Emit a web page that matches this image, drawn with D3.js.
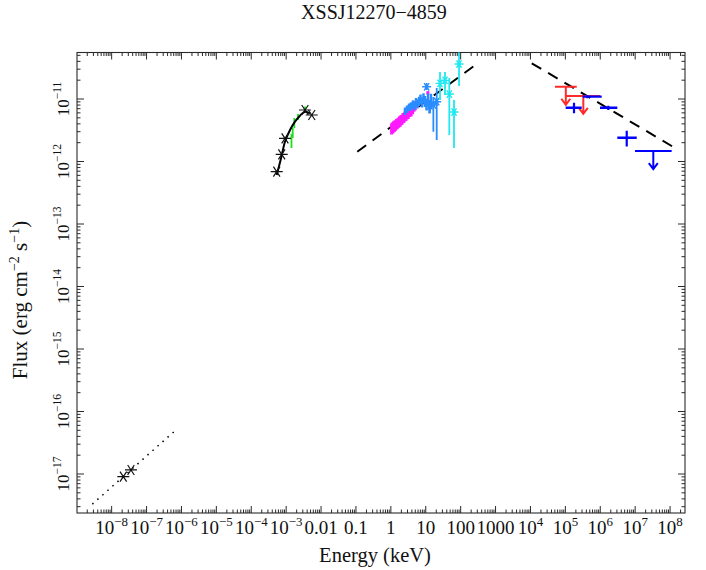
<!DOCTYPE html>
<html>
<head>
<meta charset="utf-8">
<script src="https://cdn.jsdelivr.net/npm/d3@7/dist/d3.min.js"></script>
<style>
  body { margin: 0; background: #fff; }
  svg, svg text { font-family: "Liberation Serif", "DejaVu Serif", serif; }
</style>
</head>
<body>
<div id="chart"></div>
<script>
// ---- data (energy in keV, flux in erg cm^-2 s^-1) ----
const xTickValues = [1e-8, 1e-7, 1e-6, 1e-5, 1e-4, 1e-3, 0.01, 0.1, 1, 10, 100, 1000, 1e4, 1e5, 1e6, 1e7, 1e8];
const xTickLabels = ["10^\u22128", "10^\u22127", "10^\u22126", "10^\u22125", "10^\u22124", "10^\u22123", "0.01", "0.1", "1", "10", "100", "1000", "10^4", "10^5", "10^6", "10^7", "10^8"];
const yTickValues = [1e-17, 1e-16, 1e-15, 1e-14, 1e-13, 1e-12, 1e-11];
const yTickLabels = ["10^\u221217", "10^\u221216", "10^\u221215", "10^\u221214", "10^\u221213", "10^\u221212", "10^\u221211"];

// radio
const radioE = [2.16e-8, 3.58e-8];
const radioF = [9.06e-18, 1.16e-17];
const radioModelE = [2.8e-9, 7.6e-7];
const radioModelF = [3.3e-18, 5.3e-17];

// optical / UV
const optE = [5.36e-4, 7.46e-4, 9.27e-4, 3.47e-3, 5.40e-3];
const optF = [6.87e-13, 1.30e-12, 2.35e-12, 6.67e-12, 5.55e-12];
const optModelE = [5.36e-4, 7.11e-4, 9.27e-4, 1.29e-3, 1.79e-3, 2.49e-3, 3.47e-3, 4.82e-3];
const optModelF = [6.08e-13, 1.12e-12, 2.07e-12, 3.19e-12, 4.34e-12, 5.41e-12, 6.27e-12, 5.90e-12];
const uvE = [1.42e-3, 1.54e-3, 1.71e-3, 2.19e-3, 3.47e-3];
const uvF = [2.13e-12, 2.86e-12, 4.13e-12, 5.15e-12, 6.79e-12];
const uvLo = [1.64e-12, 2.38e-12, 3.44e-12, 4.61e-12, 6.08e-12];
const uvHi = [2.75e-12, 3.44e-12, 4.97e-12, 5.75e-12, 7.59e-12];

// soft X-rays (magenta)
const pnE = [1.05, 1.1, 1.15, 1.2, 1.26, 1.32, 1.38, 1.45, 1.52, 1.6, 1.68, 1.77, 1.86, 1.96, 2.07, 2.2, 2.35, 2.5, 2.7, 2.9, 3.15, 3.45, 3.8, 4.2, 4.6, 5.0, 11.5];
const pnF = [3.38, 3.52, 3.49, 3.70, 3.66, 3.85, 3.83, 4.05, 3.99, 4.25, 4.22, 4.48, 4.40, 4.70, 4.66, 5.00, 5.05, 5.32, 5.41, 5.75, 5.85, 6.30, 6.40, 6.95, 7.45, 7.90, 12.5].map(v => v * 1e-12);
const pnErr = [0.2, 0.2, 0.19, 0.19, 0.19, 0.19, 0.18, 0.18, 0.18, 0.18, 0.18, 0.18, 0.18, 0.18, 0.18, 0.18, 0.18, 0.18, 0.18, 0.18, 0.18, 0.18, 0.18, 0.18, 0.16, 0.16, 0.06];

// X-rays (blue)
const epicE = [2.54, 2.90, 3.31, 3.78, 4.31, 4.76, 5.26, 5.80, 6.41, 7.07, 7.81, 8.62, 9.52, 10.5, 11.6, 12.8, 14.1];
const epicF = [6.43, 6.92, 7.45, 7.73, 8.32, 7.87, 8.95, 8.47, 9.29, 10.0, 8.95, 10.4, 9.29, 8.32, 10.0, 7.73, 9.64].map(v => v * 1e-12);
const epicErr = [0.14, 0.14, 0.14, 0.15, 0.15, 0.16, 0.16, 0.17, 0.17, 0.18, 0.18, 0.19, 0.2, 0.21, 0.22, 0.24, 0.26];
const epicStarE = [10.6, 13.2, 16.5, 20.6];
const epicStarF = [1.57e-11, 7.73e-12, 8.02e-12, 9.06e-12];
const epicStarLo = [1.39e-11, 5.97e-12, 3.0e-12, 2.21e-12];
const epicStarHi = [1.80e-11, 9.64e-12, 1.08e-11, 1.50e-11];

// hard X-rays (cyan)
const hardE = [25.6, 35.6, 47.3, 64.5, 89.8];
const hardF = [1.78e-11, 1.98e-11, 1.20e-11, 6.19e-12, 3.63e-11];
const hardLo = [9.64e-12, 1.16e-11, 2.65e-12, 1.64e-12, 1.61e-11];
const hardHi = [2.70e-11, 2.70e-11, 2.17e-11, 9.64e-12, 8.0e-11];

// models (dashed)
const xrayModelE = [0.109, 288];
const xrayModelF = [1.43e-12, 3.63e-11];
const gammaModelE = [1.09e4, 1.19e8];
const gammaModelF = [3.73e-11, 1.73e-12];

// gamma-rays: red upper limits
const ulE = [1.03e5, 3.27e5];
const ulELo = [5.05e4, 1.04e5];
const ulEHi = [2.12e5, 9.84e5];
const ulF = [1.57e-11, 1.12e-11];

// gamma-rays: blue points and upper limit
const latE = [1.77e5, 4.26e5, 1.70e6, 5.73e6];
const latELo = [1.02e5, 3.14e5, 9.84e5, 3.08e6];
const latEHi = [2.94e5, 1.10e6, 3.08e6, 1.11e7];
const latF = [7.26e-12, 1.09e-11, 7.26e-12, 2.40e-12];
const latFLo = [5.90e-12, 1.03e-11, 6.67e-12, 1.73e-12];
const latFHi = [8.73e-12, 1.15e-11, 7.82e-12, 3.11e-12];
const latUlE = [3.31e7];
const latUlELo = [9.91e6];
const latUlEHi = [1.11e8];
const latUlF = [1.47e-12];

// ---- layout ----
const width = 706, height = 570;
const plotLeft = 77, plotRight = 685, plotTop = 52.5, plotBottom = 513;
const serif = "'Liberation Serif', 'DejaVu Serif', serif";

const x = d3.scaleLog().domain([Math.pow(10, -8.993), Math.pow(10, 8.428)]).range([plotLeft, plotRight]);
const y = d3.scaleLog().domain([Math.pow(10, -17.624), Math.pow(10, -10.256)]).range([plotBottom, plotTop]);

const svg = d3.select("#chart").append("svg")
    .attr("width", width)
    .attr("height", height)
    .attr("font-family", serif);

svg.append("defs").append("clipPath").attr("id", "plotclip")
    .append("rect")
    .attr("x", plotLeft).attr("y", plotTop)
    .attr("width", plotRight - plotLeft).attr("height", plotBottom - plotTop);

const axisColor = "#2a2a2a";

// frame
svg.append("rect")
    .attr("x", plotLeft).attr("y", plotTop)
    .attr("width", plotRight - plotLeft).attr("height", plotBottom - plotTop)
    .attr("fill", "none")
    .attr("stroke", axisColor)
    .attr("stroke-width", 1.1);

// ticks (all inside, on four sides)
const majorLen = 7, minorLen = 3.5;
const ticksG = svg.append("g").attr("stroke", axisColor).attr("stroke-width", 1);

function decadeTicks(domain) {
    const lo = Math.floor(Math.log10(domain[0])), hi = Math.ceil(Math.log10(domain[1]));
    const out = [];
    for (let d = lo; d <= hi; d++) {
        for (let k = 1; k <= 9; k++) {
            const v = k * Math.pow(10, d);
            if (v >= domain[0] && v <= domain[1]) out.push({ v: v, major: k === 1 });
        }
    }
    return out;
}

decadeTicks(x.domain()).forEach(t => {
    const px = x(t.v), len = t.major ? majorLen : minorLen;
    ticksG.append("line").attr("x1", px).attr("x2", px).attr("y1", plotBottom).attr("y2", plotBottom - len);
    ticksG.append("line").attr("x1", px).attr("x2", px).attr("y1", plotTop).attr("y2", plotTop + len);
});
decadeTicks(y.domain()).forEach(t => {
    const py = y(t.v), len = t.major ? majorLen : minorLen;
    ticksG.append("line").attr("x1", plotLeft).attr("x2", plotLeft + len).attr("y1", py).attr("y2", py);
    ticksG.append("line").attr("x1", plotRight).attr("x2", plotRight - len).attr("y1", py).attr("y2", py);
});

// label with optional superscript ("10^4")
function writeLabel(sel, str, fs) {
    const parts = str.split("^");
    sel.append("tspan").text(parts[0]);
    if (parts.length > 1) {
        sel.append("tspan")
            .attr("dy", -0.42 * fs)
            .attr("font-size", fs * 0.68)
            .text(parts[1]);
    }
}

const xfs = 19;
xTickValues.forEach((v, i) => {
    const t = svg.append("text")
        .attr("x", x(v)).attr("y", 534)
        .attr("text-anchor", "middle")
        .attr("font-family", serif)
        .attr("font-size", xfs)
        .attr("fill", "#111");
    writeLabel(t, xTickLabels[i], xfs);
});

const yfs = 17;
yTickValues.forEach((v, i) => {
    const t = svg.append("text")
        .attr("transform", `translate(68.5,${y(v)}) rotate(-90)`)
        .attr("text-anchor", "middle")
        .attr("font-family", serif)
        .attr("font-size", yfs)
        .attr("fill", "#111");
    writeLabel(t, yTickLabels[i], yfs);
});

// axis titles
svg.append("text")
    .attr("x", 375).attr("y", 562)
    .attr("text-anchor", "middle")
    .attr("font-family", serif)
    .attr("font-size", 20.5)
    .attr("fill", "#111")
    .text("Energy (keV)");

const yl = svg.append("text")
    .attr("transform", "translate(27,300) rotate(-90)")
    .attr("text-anchor", "middle")
    .attr("font-family", serif)
    .attr("font-size", 21)
    .attr("fill", "#111");
yl.append("tspan").text("Flux (erg cm");
yl.append("tspan").attr("dy", -8).attr("font-size", 14).text("\u22122");
yl.append("tspan").attr("dy", 8).text(" s");
yl.append("tspan").attr("dy", -8).attr("font-size", 14).text("\u22121");
yl.append("tspan").attr("dy", 8).text(")");

svg.append("text")
    .attr("x", 374).attr("y", 18.5)
    .attr("text-anchor", "middle")
    .attr("font-family", serif)
    .attr("font-size", 20)
    .attr("fill", "#111")
    .text("XSSJ12270\u22124859");

// ---- data layer ----
const plot = svg.append("g").attr("clip-path", "url(#plotclip)");

function pairs(es, fs) { return es.map((e, i) => [e, fs[i]]); }
const line = d3.line().x(d => x(d[0])).y(d => y(d[1]));
const smoothLine = d3.line().x(d => x(d[0])).y(d => y(d[1])).curve(d3.curveCatmullRom);

function asterisk(g, e, f, r, color, w) {
    const px = x(e), py = y(f);
    const dx = r * Math.cos(Math.PI / 3.2), dy = r * Math.sin(Math.PI / 3.2);
    g.append("path")
        .attr("d", `M${px - r},${py}L${px + r},${py}M${px - dx},${py - dy}L${px + dx},${py + dy}M${px - dx},${py + dy}L${px + dx},${py - dy}`)
        .attr("stroke", color).attr("stroke-width", w).attr("fill", "none");
}

function vbar(g, e, lo, hi, color, w) {
    g.append("line")
        .attr("x1", x(e)).attr("x2", x(e)).attr("y1", y(lo)).attr("y2", y(hi))
        .attr("stroke", color).attr("stroke-width", w);
}

function hbar(g, elo, ehi, f, color, w) {
    g.append("line")
        .attr("x1", x(elo)).attr("x2", x(ehi)).attr("y1", y(f)).attr("y2", y(f))
        .attr("stroke", color).attr("stroke-width", w);
}

function upperLimit(g, e, elo, ehi, f, color, w) {
    hbar(g, elo, ehi, f, color, w);
    const px = x(e), py = y(f), len = 18;
    g.append("path")
        .attr("d", `M${px},${py}L${px},${py + len}M${px - 4.5},${py + len - 6}L${px},${py + len}L${px + 4.5},${py + len - 6}`)
        .attr("stroke", color).attr("stroke-width", w).attr("fill", "none");
}

// radio model and points
plot.append("path")
    .datum(pairs(radioModelE, radioModelF))
    .attr("d", line)
    .attr("fill", "none")
    .attr("stroke", "#000")
    .attr("stroke-width", 1.5)
    .attr("stroke-dasharray", "1.5,5.2");
radioE.forEach((e, i) => asterisk(plot, e, radioF[i], 6, "#111", 1.2));

// optical/UV
uvE.forEach((e, i) => vbar(plot, e, uvLo[i], uvHi[i], "#19e019", 1.8));
plot.append("path")
    .datum(pairs(optModelE, optModelF))
    .attr("d", smoothLine)
    .attr("fill", "none")
    .attr("stroke", "#000")
    .attr("stroke-width", 2);
optE.forEach((e, i) => asterisk(plot, e, optF[i], 6, "#111", 1.2));

// dashed models
[[xrayModelE, xrayModelF], [gammaModelE, gammaModelF]].forEach(m => {
    plot.append("path")
        .datum(pairs(m[0], m[1]))
        .attr("d", line)
        .attr("fill", "none")
        .attr("stroke", "#000")
        .attr("stroke-width", 2)
        .attr("stroke-dasharray", "11,8");
});

// magenta soft X-rays
const pnColor = "#ff1aff";
pnE.forEach((e, i) => {
    vbar(plot, e, pnF[i] * (1 - pnErr[i]), pnF[i] * (1 + pnErr[i]), pnColor, 3);
    hbar(plot, e / 1.07, e * 1.07, pnF[i], pnColor, 3.5);
});

// blue X-rays
const epicColor = "#2a8cff";
epicE.forEach((e, i) => {
    vbar(plot, e, epicF[i] * (1 - epicErr[i]), epicF[i] * (1 + epicErr[i]), epicColor, 2.5);
    hbar(plot, e / 1.07, e * 1.07, epicF[i], epicColor, 3.5);
});
epicStarE.forEach((e, i) => {
    vbar(plot, e, epicStarLo[i], epicStarHi[i], epicColor, 1.8);
    asterisk(plot, e, epicStarF[i], 4.5, epicColor, 1.4);
});

// cyan hard X-rays
const hardColor = "#1ee8f0";
hardE.forEach((e, i) => {
    vbar(plot, e, hardLo[i], hardHi[i], hardColor, 1.8);
    asterisk(plot, e, hardF[i], 4.5, hardColor, 1.4);
});

// red upper limits
const ulColor = "#ff2b2b";
ulE.forEach((e, i) => upperLimit(plot, e, ulELo[i], ulEHi[i], ulF[i], ulColor, 2));

// blue gamma-ray points
const latColor = "#0000ff";
latE.forEach((e, i) => {
    hbar(plot, latELo[i], latEHi[i], latF[i], latColor, 2.4);
    vbar(plot, e, latFLo[i], latFHi[i], latColor, 2.2);
});
latUlE.forEach((e, i) => upperLimit(plot, e, latUlELo[i], latUlEHi[i], latUlF[i], latColor, 2));
</script>
</body>
</html>
